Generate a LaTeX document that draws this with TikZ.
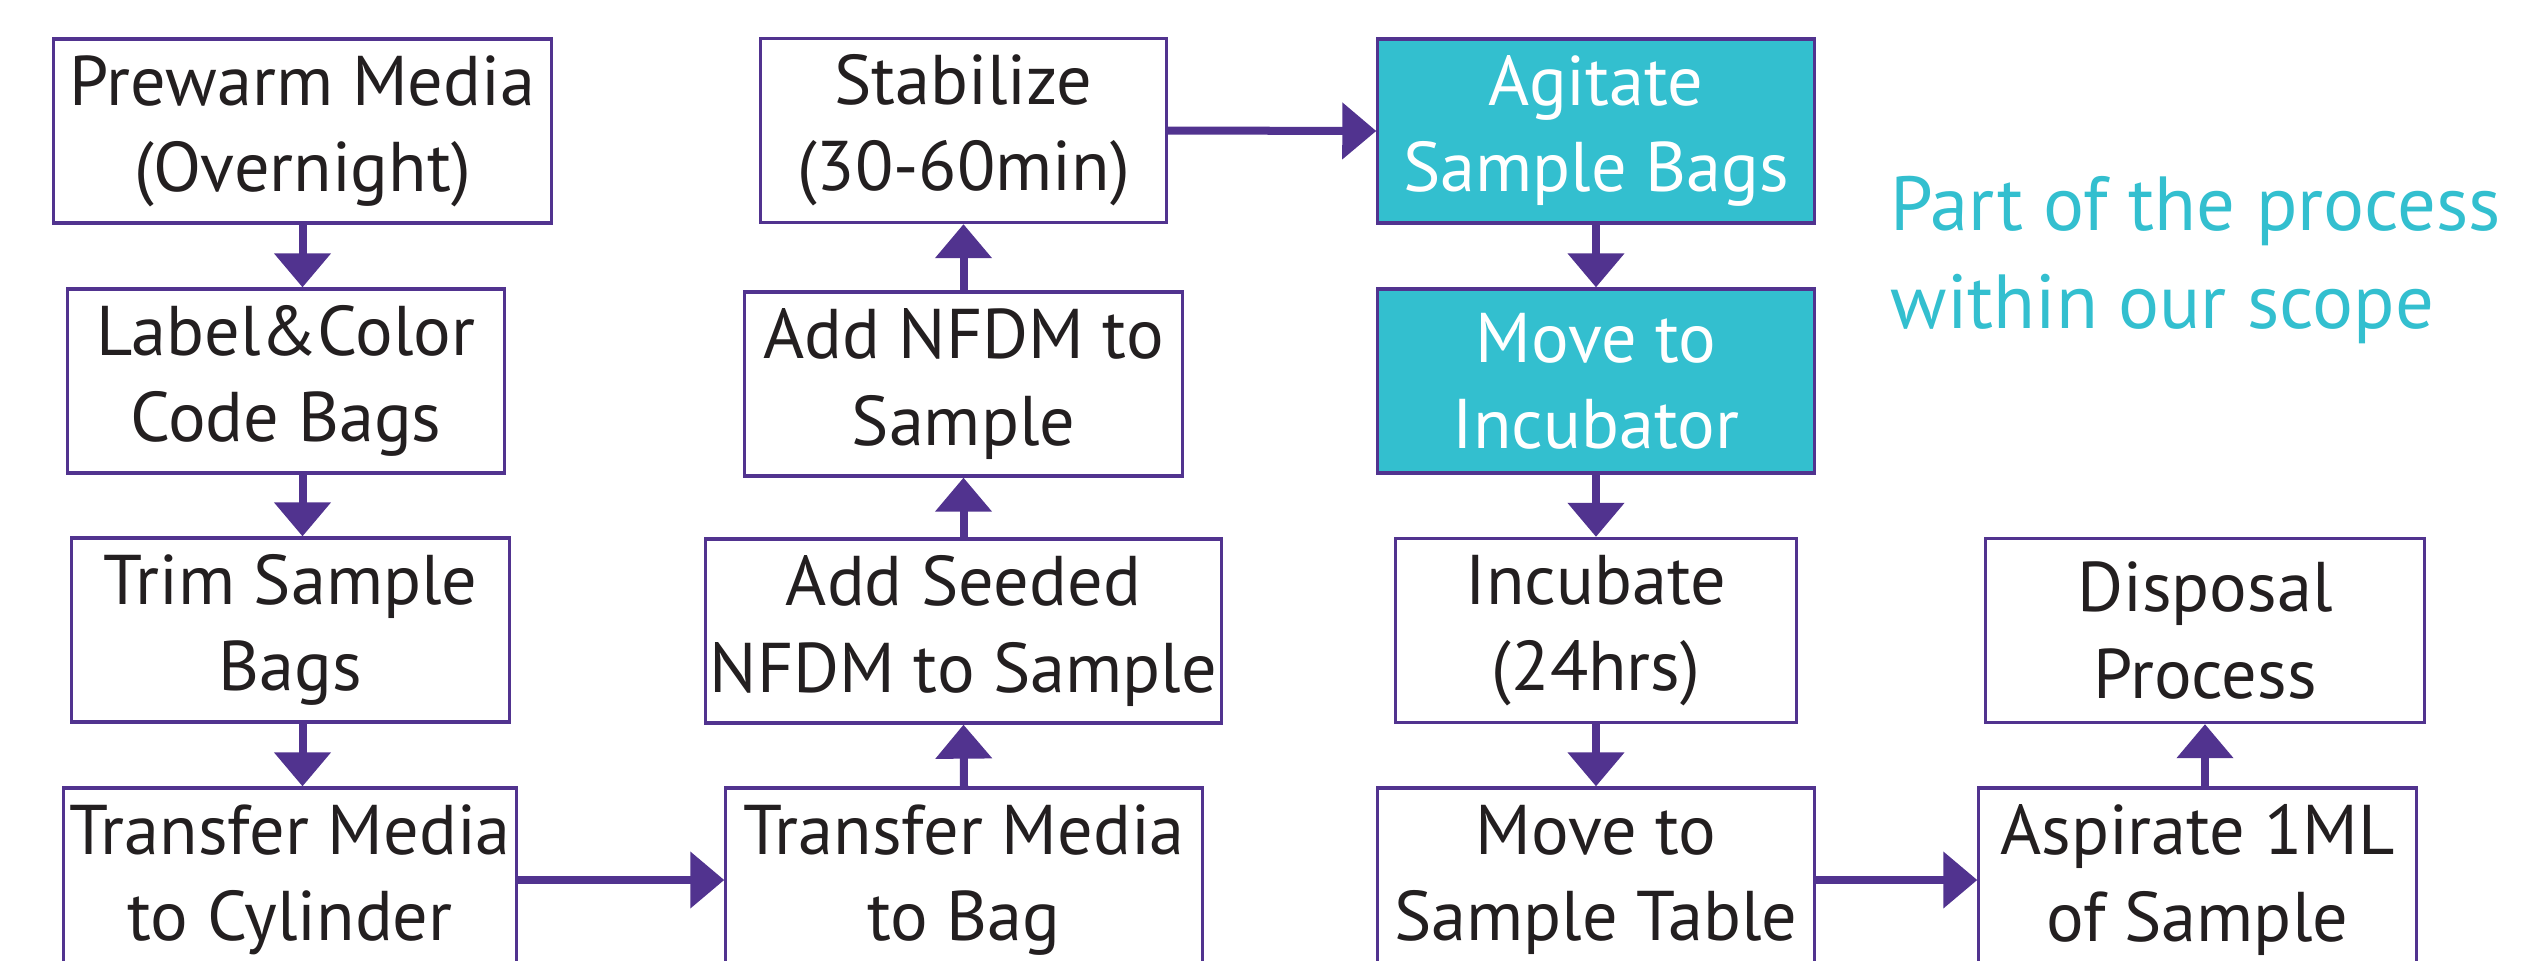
\documentclass[tikz,border=0pt]{standalone}
\usepackage{fontspec}
\setmainfont{PT Sans}
\usetikzlibrary{arrows.meta}
\definecolor{StepLine}{HTML}{51338F}
\definecolor{ScopeCyan}{HTML}{33BFCF}
\definecolor{StepInk}{HTML}{231F20}

\begin{document}
\begin{tikzpicture}[x=0.01cm,y=-0.01cm,every node/.style={font=\fontsize{20}{24.5}\selectfont,text=StepInk,align=center},stepbox/.style={draw=StepLine,line width=0.9pt,fill=white,minimum height=1.84cm,inner sep=0pt},scopebox/.style={stepbox,fill=ScopeCyan,text=white},flow/.style={-{Triangle[width=5.5mm,length=3.4mm]},line width=0.08cm,draw=StepLine}]
\useasboundingbox (0,0) rectangle (2526,960); \clip (0,0) rectangle (2526,960);

\node[stepbox,minimum width=4.97cm] (prewarm) at (302.5,131) {Prewarm Media\\(Overnight)};
\node[stepbox,minimum width=4.36cm] (label) at (286,381) {Label\&Color\\Code Bags};
\node[stepbox,minimum width=4.37cm] (trim) at (290.5,630) {Trim Sample\\Bags};
\node[stepbox,minimum width=4.52cm] (cylinder) at (290,880) {Transfer Media\\to Cylinder};
\draw[flow] (prewarm.south) -- (prewarm.south |- label.north); \draw[flow] (prewarm.south |- label.south) -- (prewarm.south |- trim.north); \draw[flow] (prewarm.south |- trim.south) -- (prewarm.south |- cylinder.north);

\node[stepbox,minimum width=4.76cm] (bag) at (964,880) {Transfer Media\\to Bag};
\node[stepbox,minimum width=5.15cm] (seeded) at (963.5,631) {Add Seeded\\NFDM to Sample};
\node[stepbox,minimum width=4.37cm] (nfdm) at (963.5,384) {Add NFDM to\\Sample};
\node[stepbox,minimum width=4.05cm] (stab) at (963.5,130.5) {Stabilize\\(30-60min)};
\draw[flow] (cylinder.east) -- (bag.west); \draw[flow] (bag.north) -- (seeded.south); \draw[flow] (seeded.north) -- (nfdm.south); \draw[flow] (nfdm.north) -- (stab.south);

\node[scopebox,minimum width=4.36cm] (agitate) at (1596,131) {Agitate\\Sample Bags};
\node[scopebox,minimum width=4.36cm] (incubator) at (1596,381) {Move to\\Incubator};
\node[stepbox,minimum width=4.01cm] (incubate) at (1596,630.5) {Incubate\\(24hrs)};
\node[stepbox,minimum width=4.36cm] (table) at (1596,880) {Move to\\Sample Table};
\draw[flow] (stab.east) -- (agitate.west); \draw[flow] (agitate.south) -- (incubator.north); \draw[flow] (incubator.south) -- (incubate.north); \draw[flow] (incubate.south) -- (table.north);

\node[stepbox,minimum width=4.38cm] (disposal) at (2205,630.5) {Disposal\\Process};
\node[stepbox,minimum width=4.37cm] (aspirate) at (2197.5,880) {Aspirate 1ML\\of Sample};
\draw[flow] (table.east) -- (aspirate.west); \draw[flow] (disposal.south |- aspirate.north) -- (disposal.south);

\node[anchor=base west,align=left,inner sep=0pt,font=\fontsize{21.8}{27.8}\selectfont,text=ScopeCyan] (scope) at (1890,328) {Part of the process\\within our scope};

\end{tikzpicture}
\end{document}
